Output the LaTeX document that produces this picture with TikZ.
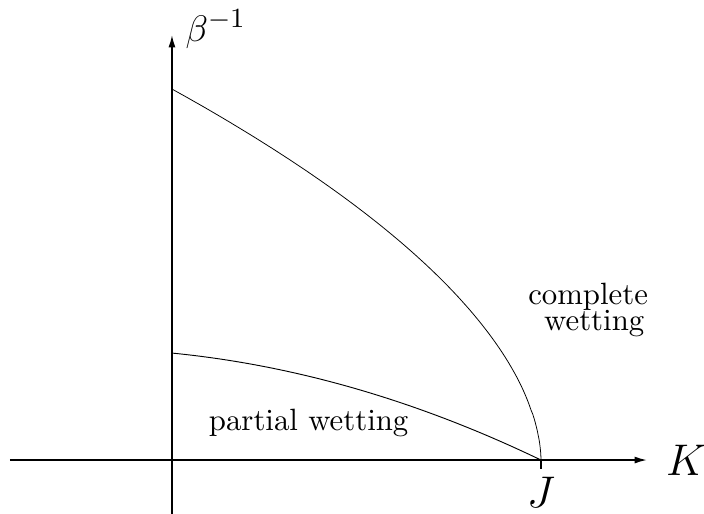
\documentclass[tikz,border=0pt]{standalone}
\usepackage{amsmath}
\usetikzlibrary{arrows.meta, positioning, calc}

\begin{document}
\begin{tikzpicture}[
    axis/.style={-{Latex[length=1.4mm, width=0.8mm]}, line width=0.45pt},
    curve/.style={line width=0.3pt},
    lbl/.style={font=\Large, inner sep=1pt},
    region/.style={align=center, font=\normalsize, inner sep=0pt},
]
    \useasboundingbox (-1.963,-0.605) rectangle (6.073,5.251);
    % axes
    \coordinate (O) at (0,0);
    \coordinate (xmin) at (-1.85,0);
    \coordinate (xmax) at (5.42,0);
    \coordinate (ymin) at (0,-0.62);
    \coordinate (ymax) at (0,4.85);
    \coordinate (J) at (4.212,0);
    \coordinate (Jtick) at (4.212,-0.1);

    \draw[axis] (xmin) -- (xmax);
    \draw[axis] (ymin) -- (ymax);
    \draw[line width=0.4pt] (J) -- (Jtick);

    \node[lbl] (K) at (5.87,0) {$K$};
    \node[lbl, font=\fontsize{13}{15}\selectfont] (beta) at (0.5,4.92) {$\beta^{-1}$};
    \node[lbl, below=0.05cm of Jtick] (Jlabel) {$J$};

    % phase boundaries
    \draw[curve, line width=0.25pt] plot[domain=0:4.235, samples=90, variable=\t]
        ({4.212*(1-(\t/4.235)^1.818)}, \t);
    \draw[curve] plot[domain=0:4.212, samples=60, smooth]
        (\x, {1.221*(1-\x/4.212)*(1+0.66*\x/4.212)});

    \node[region] (partial) at (1.56,0.42) {partial wetting};
    \node[region] (complete) at (4.75,1.71) {complete\\[-3.5pt]\hspace*{4pt}wetting};
\end{tikzpicture}
\end{document}
